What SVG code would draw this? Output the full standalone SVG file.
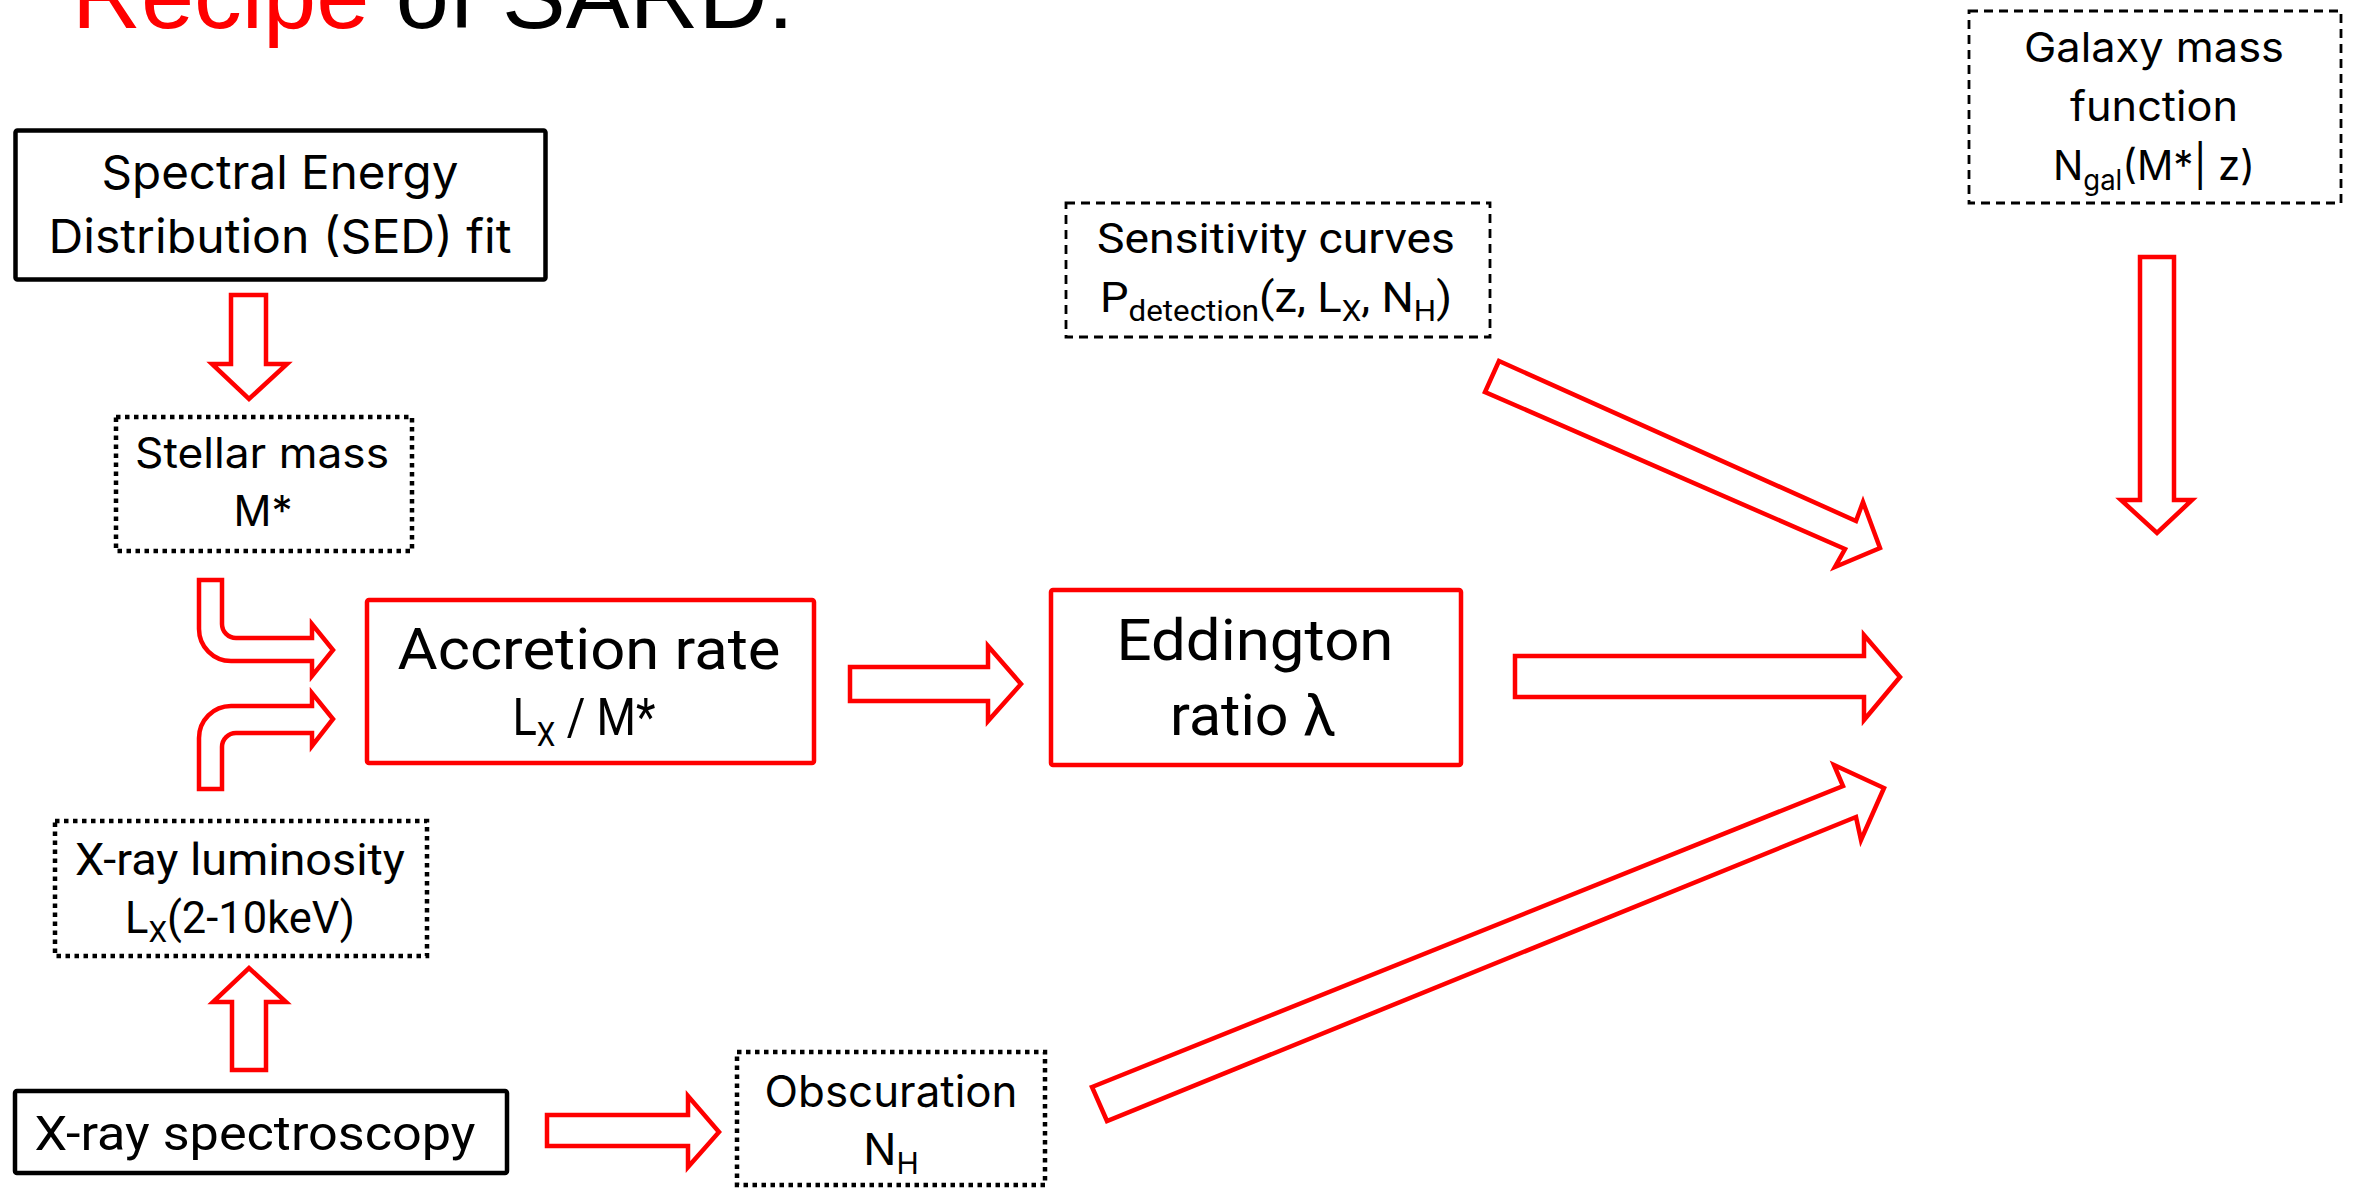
<svg xmlns="http://www.w3.org/2000/svg" width="2362" height="1189" viewBox="0 0 2362 1189">
<style>
.bg{fill:#fff}
.solid{fill:#fff;stroke:#000;stroke-width:4.5}
.red{fill:#fff;stroke:#FF0000;stroke-width:4.5}
.dot{fill:#fff;stroke:#000;stroke-width:4.5;stroke-dasharray:4.5 4.5}
.dash{fill:#fff;stroke:#000;stroke-width:2.8;stroke-dasharray:9 6}
.arrow{fill:#fff;stroke:#FF0000;stroke-width:4.5;stroke-linejoin:miter;stroke-miterlimit:10}
.t{font-family:Inter,"Open Sans","Liberation Sans",sans-serif;fill:#000;text-anchor:middle}
.n{font-family:Roboto,"Liberation Sans",sans-serif;fill:#000;text-anchor:middle}
</style>
<rect class="bg" x="0" y="0" width="2362" height="1189"/>

<g id="title">
<text x="72" y="28" font-family="'Liberation Sans',Arial,sans-serif" font-size="95" textLength="722" lengthAdjust="spacingAndGlyphs"><tspan fill="#FF0000">Recipe</tspan><tspan fill="#000"> of SARD:</tspan></text>
</g>

<g id="connectors">
<path id="c-sed-stellar" class="arrow" d="M231,295 L266,295 L266,364 L287,364 L249,399 L212,364 L231,364 Z"/>
<path id="c-stellar-accretion" class="arrow" d="M199,580 L222,580 L222,624 A14,14 0 0 0 236,638 L312,638 L312,624 L333,650 L312,676 L312,661 L231,661 A32,32 0 0 1 199,629 Z"/>
<path id="c-lum-accretion" class="arrow" d="M199,789 L199,738 A32,32 0 0 1 231,706 L312,706 L312,693 L333,719 L312,746 L312,733 L236,733 A14,14 0 0 0 222,747 L222,789 Z"/>
<path id="c-accretion-edd" class="arrow" d="M850,667 L988,667 L988,646 L1021,684 L988,721 L988,701 L850,701 Z"/>
<path id="c-edd-out" class="arrow" d="M1515,656 L1864,656 L1864,635 L1900,677 L1864,720 L1864,697 L1515,697 Z"/>
<path id="c-spec-lum" class="arrow" d="M232,1070 L266,1070 L266,1002 L286,1002 L249,968 L213,1002 L232,1002 Z"/>
<path id="c-spec-obsc" class="arrow" d="M547,1115 L688,1115 L688,1096 L719,1132 L688,1167 L688,1146 L547,1146 Z"/>
<path id="c-galaxy-out" class="arrow" d="M2140,257 L2174,257 L2174,500 L2192,500 L2157,533 L2121,500 L2140,500 Z"/>
<path id="c-sens-out" class="arrow" d="M1499,361 L1856,521 L1863,502 L1880,548 L1835,567 L1845,549 L1485,392 Z"/>
<path id="c-obsc-out" class="arrow" d="M1092,1087 L1843,786 L1834,765 L1884,788 L1861,840 L1856,817 L1107,1121 Z"/>
</g>

<g id="node-sed">
<rect class="solid" x="15.5" y="130.5" width="530" height="149" rx="2"/>
<text class="t" x="280" y="189" font-size="47" textLength="357" lengthAdjust="spacingAndGlyphs">Spectral Energy</text>
<text class="t" x="280" y="253" font-size="47" textLength="463" lengthAdjust="spacingAndGlyphs">Distribution (SED) fit</text>
</g>

<g id="node-stellar">
<rect class="dot" x="116" y="417" width="296" height="134"/>
<text class="t" x="262" y="468" font-size="42" textLength="254" lengthAdjust="spacingAndGlyphs">Stellar mass</text>
<text class="t" x="263" y="526" font-size="42">M*</text>
</g>

<g id="node-accretion">
<rect class="red" x="367" y="600" width="447" height="163" rx="2"/>
<text class="n" x="589" y="669" font-size="57" textLength="383" lengthAdjust="spacingAndGlyphs">Accretion rate</text>
<text class="n" x="584" y="735" font-size="52" textLength="143" lengthAdjust="spacingAndGlyphs">L<tspan font-size="34" dy="11">X</tspan><tspan dy="-11"> / M*</tspan></text>
</g>

<g id="node-eddington">
<rect class="red" x="1051" y="590" width="410" height="175" rx="2"/>
<text class="n" x="1255" y="660" font-size="58" textLength="277" lengthAdjust="spacingAndGlyphs">Eddington</text>
<text class="n" x="1253" y="735" font-size="58" textLength="166" lengthAdjust="spacingAndGlyphs">ratio λ</text>
</g>

<g id="node-sensitivity">
<rect class="dash" x="1066" y="203" width="424" height="134"/>
<text class="n" x="1276" y="253" font-size="42" textLength="358" lengthAdjust="spacingAndGlyphs">Sensitivity curves</text>
<text class="n" x="1276" y="312" font-size="42" textLength="352" lengthAdjust="spacingAndGlyphs">P<tspan font-size="29" dy="9">detection</tspan><tspan dy="-9">(z, L</tspan><tspan font-size="29" dy="9">X</tspan><tspan dy="-9">, N</tspan><tspan font-size="29" dy="9">H</tspan><tspan dy="-9">)</tspan></text>
</g>

<g id="node-galaxy">
<rect class="dash" x="1969" y="11" width="372" height="192"/>
<text class="t" x="2154" y="62" font-size="41" textLength="260" lengthAdjust="spacingAndGlyphs">Galaxy mass</text>
<text class="t" x="2154" y="121" font-size="41" textLength="168" lengthAdjust="spacingAndGlyphs">function</text>
<text class="t" x="2154" y="180" font-size="41" textLength="202" lengthAdjust="spacingAndGlyphs">N<tspan font-size="28" dy="10">gal</tspan><tspan dy="-10">(M*| z)</tspan></text>
</g>

<g id="node-luminosity">
<rect class="dot" x="55" y="821" width="372" height="135"/>
<text class="n" x="240" y="875" font-size="44" textLength="330" lengthAdjust="spacingAndGlyphs">X-ray luminosity</text>
<text class="n" x="240" y="933" font-size="44" textLength="230" lengthAdjust="spacingAndGlyphs">L<tspan font-size="30" dy="9">X</tspan><tspan dy="-9">(2-10keV)</tspan></text>
</g>

<g id="node-spectroscopy">
<rect class="solid" x="15" y="1091" width="492" height="82" rx="2"/>
<text class="n" x="255" y="1150" font-size="48" textLength="441" lengthAdjust="spacingAndGlyphs">X-ray spectroscopy</text>
</g>

<g id="node-obscuration">
<rect class="dot" x="737" y="1052" width="308" height="133"/>
<text class="t" x="891" y="1107" font-size="44" textLength="253" lengthAdjust="spacingAndGlyphs">Obscuration</text>
<text class="t" x="891" y="1165" font-size="44">N<tspan font-size="30" dy="9">H</tspan></text>
</g>
</svg>
